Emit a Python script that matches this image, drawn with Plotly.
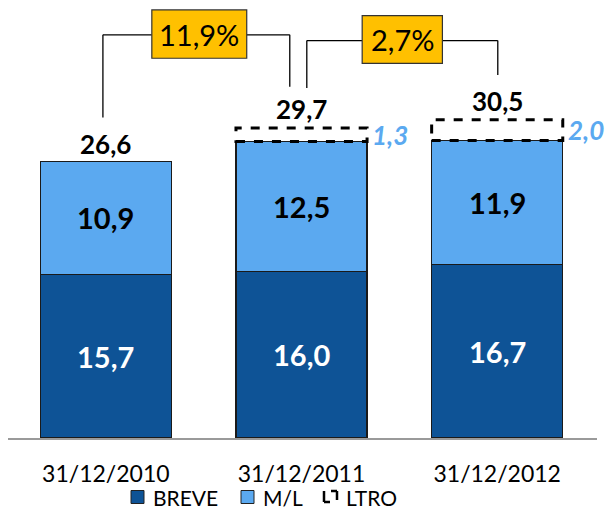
import plotly.graph_objects as go

# ---- data ----
categories = ["31/12/2010", "31/12/2011", "31/12/2012"]
breve = [15.7, 16.0, 16.7]
ml = [10.9, 12.5, 11.9]
ltro = [0.0, 1.3, 2.0]
totals = [26.6, 29.7, 30.5]
growth = ["11,9%", "2,7%"]
series_names = ["BREVE", "M/L", "LTRO"]

DARK = "#0E5396"
LIGHT = "#5BA9F0"
YELLOW = "#FFC000"
FONT = "Lato"

def fmt(v):
    return f"{v:.1f}".replace(".", ",")

x = list(range(len(categories)))
BW = 0.67
YMAX = 42.1

W, H = 607, 512
ML, MR, MT, MB = 8, 10, 0, 74

fig = go.Figure()
fig.add_trace(go.Bar(x=x, y=breve, width=BW, marker=dict(color=DARK, line=dict(color="#1a1a1a", width=1.2)),
                     name=series_names[0], hoverinfo="skip"))
fig.add_trace(go.Bar(x=x, y=ml, width=BW, marker=dict(color=LIGHT, line=dict(color="#1a1a1a", width=1.2)),
                     name=series_names[1], hoverinfo="skip"))

shapes = []
annotations = []

for i in x:
    base_ml = breve[i]
    top_ml = breve[i] + ml[i]
    annotations.append(dict(x=i, y=base_ml / 2, text=f"<b>{fmt(breve[i])}</b>", showarrow=False,
                            font=dict(family=FONT, size=29, color="white")))
    annotations.append(dict(x=i, y=base_ml + ml[i] / 2, text=f"<b>{fmt(ml[i])}</b>", showarrow=False,
                            font=dict(family=FONT, size=29, color="black")))
    top = top_ml
    if ltro[i] > 0:
        top = top_ml + ltro[i]
        shapes.append(dict(type="rect", xref="x", yref="y", x0=i - BW / 2, x1=i + BW / 2, y0=top_ml, y1=top,
                           line=dict(color="black", width=3, dash="dash"), fillcolor="rgba(0,0,0,0)"))
        annotations.append(dict(x=i + BW / 2, y=top_ml + ltro[i] / 2, xanchor="left", xshift=3,
                                text=f"<b><i>{fmt(ltro[i])}</i></b>", showarrow=False,
                                font=dict(family=FONT, size=26, color=LIGHT)))
        annotations.append(dict(x=i, y=top, yanchor="bottom", yshift=1, text=f"<b>{fmt(totals[i])}</b>",
                                showarrow=False, font=dict(family=FONT, size=26, color="black")))
    else:
        annotations.append(dict(x=i, y=top, yanchor="bottom", yshift=-1, text=f"<b>{fmt(totals[i])}</b>",
                                showarrow=False, font=dict(family=FONT, size=26, color="black")))

# growth brackets
brackets = [
    dict(xl=-0.015, ybl=totals[0] + 4.2, xr=0.94, ybr=totals[1] + 4.05, yh=38.75, bx0=0.235, bx1=0.72, by0=36.5, by1=41.15),
    dict(xl=1.027, ybl=totals[1] + 3.95, xr=2.003, ybr=totals[2] + 4.4, yh=38.2, bx0=1.31, bx1=1.72, by0=36.0, by1=40.6),
]
for b, g in zip(brackets, growth):
    ln = dict(color="black", width=1.3)
    shapes.append(dict(type="line", x0=b["xl"], x1=b["xl"], y0=b["ybl"], y1=b["yh"], line=ln))
    shapes.append(dict(type="line", x0=b["xl"], x1=b["bx0"], y0=b["yh"], y1=b["yh"], line=ln))
    shapes.append(dict(type="line", x0=b["bx1"], x1=b["xr"], y0=b["yh"], y1=b["yh"], line=ln))
    shapes.append(dict(type="line", x0=b["xr"], x1=b["xr"], y0=b["yh"], y1=b["ybr"], line=ln))
    shapes.append(dict(type="rect", x0=b["bx0"], x1=b["bx1"], y0=b["by0"], y1=b["by1"], fillcolor=YELLOW,
                       line=dict(color="#333333", width=1.2)))
    annotations.append(dict(x=(b["bx0"] + b["bx1"]) / 2, y=(b["by0"] + b["by1"]) / 2, text=g, showarrow=False,
                            font=dict(family=FONT, size=29, color="black")))

# manual legend (paper coords are relative to the plot area)
PW = W - ML - MR
PH = H - MT - MB
def px(xp):
    return (xp - ML) / PW
def py(yp):
    return (H - MB - yp) / PH

leg_y = 497
def sq(x0, color):
    shapes.append(dict(type="rect", xref="paper", yref="paper", x0=px(x0), x1=px(x0 + 13),
                       y0=py(leg_y + 6.5), y1=py(leg_y - 6.5), fillcolor=color, line=dict(color="#222", width=1)))
sq(131, DARK)
sq(241, LIGHT)
icon = [((324, 491), (324, 502)), ((324, 502), (330, 502)), ((331, 491), (337, 491)), ((337, 491), (337, 500))]
for (a, b) in icon:
    shapes.append(dict(type="line", xref="paper", yref="paper", x0=px(a[0]), y0=py(a[1]), x1=px(b[0]), y1=py(b[1]),
                       line=dict(color="black", width=2.5)))
for xt, name in [(151, series_names[0]), (261, series_names[1]), (344, series_names[2])]:
    annotations.append(dict(xref="paper", yref="paper", x=px(xt), y=py(leg_y), xanchor="left", yanchor="middle",
                            text=name, showarrow=False, font=dict(family=FONT, size=21, color="black")))

for s in shapes:
    s.setdefault("xref", "x")
    s.setdefault("yref", "y")

fig.update_layout(
    width=W, height=H,
    barmode="stack",
    showlegend=False,
    plot_bgcolor="white", paper_bgcolor="white",
    margin=dict(l=ML, r=MR, t=MT, b=MB, autoexpand=False),
    shapes=shapes, annotations=annotations,
    xaxis=dict(range=[-0.5, 2.51], tickvals=x, ticktext=categories, showgrid=False, zeroline=False,
               showline=True, linecolor="#9a9a9a", linewidth=2, ticks="", ticklabelstandoff=14,
               tickfont=dict(family=FONT, size=23, color="black"), fixedrange=True),
    yaxis=dict(range=[0, YMAX], visible=False, showgrid=False, zeroline=False, fixedrange=True),
)

fig.write_html("out.html", config={"displayModeBar": False},
               post_script="document.body.style.margin='0';document.body.style.padding='0';")
